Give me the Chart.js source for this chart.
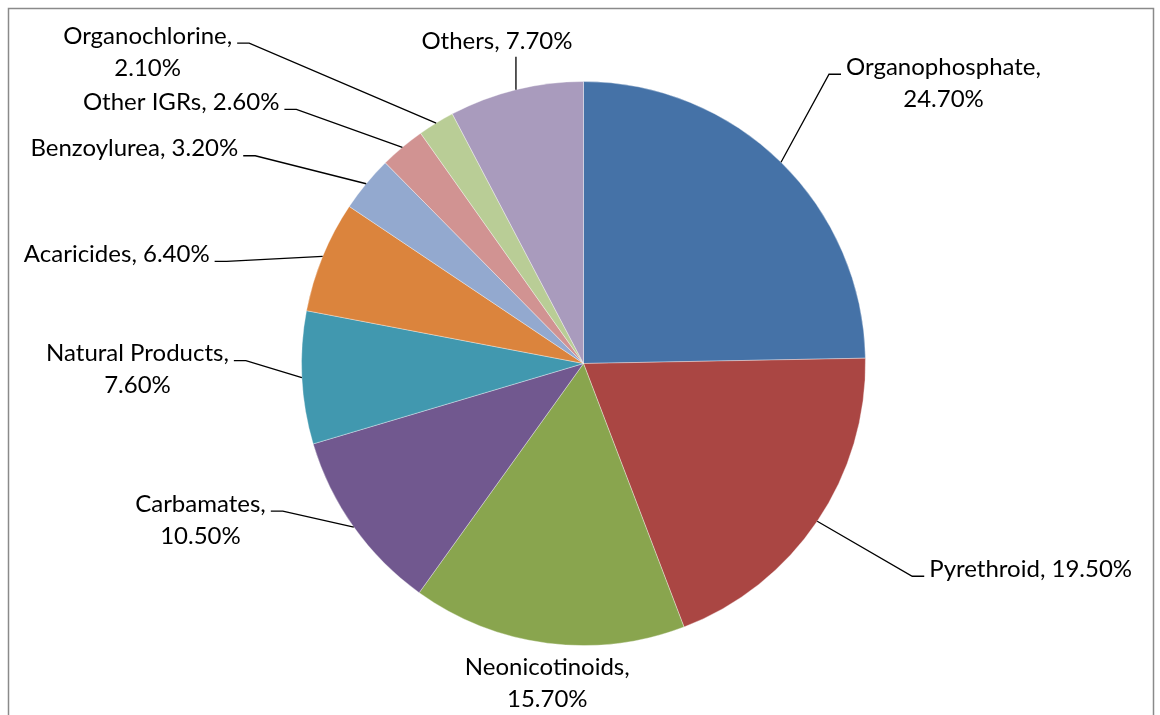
<!DOCTYPE html>
<html>
<head>
<meta charset="utf-8">
<script src="https://cdn.jsdelivr.net/npm/chart.js@4/dist/chart.umd.min.js"></script>
<style>
  html, body { margin: 0; padding: 0; background: #fff; }
  #wrap { width: 1160px; height: 715px; }
</style>
</head>
<body>
<div id="wrap"><canvas id="pie" width="1160" height="715"></canvas></div>
<script>
const categories = ['Organophosphate', 'Pyrethroid', 'Neonicotinoids', 'Carbamates', 'Natural Products',
                    'Acaricides', 'Benzoylurea', 'Other IGRs', 'Organochlorine', 'Others'];
const shares = [24.7, 19.5, 15.7, 10.5, 7.6, 6.4, 3.2, 2.6, 2.1, 7.7];
const sliceColors = ['#4572A7', '#AA4643', '#89A54E', '#71588F', '#4198AF',
                     '#DB843D', '#93A9CF', '#D19392', '#B9CD96', '#A99BBD'];

// label placement, offsets from the slice's outer mid point
// side: 'r' text right of elbow, 'l' text left of elbow, 'up'/'down' no elbow
const labelLayout = [
    { side: 'r', dx: 48, dy: -88, wrap: true },
    { side: 'r', dx: 95, dy: 55, wrap: false },
    { side: 'down', dx: 0, dy: 24, wrap: true },
    { side: 'l', dx: -71, dy: -16, wrap: true },
    { side: 'l', dx: -56, dy: -17, wrap: true },
    { side: 'l', dx: -96, dy: 5, wrap: false },
    { side: 'l', dx: -111, dy: -28, wrap: false },
    { side: 'l', dx: -106, dy: -38, wrap: false },
    { side: 'l', dx: -187, dy: -80, wrap: true },
    { side: 'up', dx: 0, dy: -33, wrap: false }
];

const FONT = '24px Lato, "Open Sans", sans-serif';
const LINE_H = 32;

const frame = {
    id: 'frame',
    beforeDraw(chart) {
        const ctx = chart.ctx;
        ctx.save();
        ctx.fillStyle = '#fff';
        ctx.fillRect(0, 0, chart.width, chart.height);
        ctx.strokeStyle = '#8a8a8a';
        ctx.lineWidth = 1.5;
        ctx.strokeRect(8.5, 8.5, 1145, 740);
        ctx.restore();
    }
};

const sliceLabels = {
    id: 'sliceLabels',
    afterDatasetsDraw(chart) {
        const ctx = chart.ctx;
        const arcs = chart.getDatasetMeta(0).data;
        ctx.save();
        ctx.font = FONT;
        ctx.fillStyle = '#000';
        ctx.strokeStyle = '#000';
        ctx.lineWidth = 1.3;
        ctx.textBaseline = 'middle';
        arcs.forEach((arc, i) => {
            const p = arc.getProps(['x', 'y', 'startAngle', 'endAngle', 'outerRadius'], true);
            const mid = (p.startAngle + p.endAngle) / 2;
            const ex = p.x + Math.cos(mid) * p.outerRadius;
            const ey = p.y + Math.sin(mid) * p.outerRadius;
            const lay = labelLayout[i];
            const pct = shares[i].toFixed(2) + '%';
            const lines = lay.wrap ? [categories[i] + ',', pct] : [categories[i] + ', ' + pct];
            const bx = ex + lay.dx, by = ey + lay.dy;
            const w0 = ctx.measureText(lines[0]).width;
            let cx, ty;
            if (lay.side === 'r' || lay.side === 'l') {
                const dir = lay.side === 'r' ? 1 : -1;
                ctx.beginPath();
                ctx.moveTo(ex, ey);
                ctx.lineTo(bx, by);
                ctx.lineTo(bx + dir * 12, by);
                ctx.stroke();
                const edge = bx + dir * 17;
                cx = lay.side === 'r' ? edge + w0 / 2 : edge - w0 / 2;
                ty = by - 7;
            } else if (lay.side === 'up') {
                ctx.beginPath();
                ctx.moveTo(ex, ey);
                ctx.lineTo(bx, by);
                ctx.stroke();
                cx = bx - 19;
                ty = by - 15;
            } else {
                cx = bx;
                ty = by;
            }
            ctx.textAlign = 'center';
            lines.forEach((ln, k) => ctx.fillText(ln, cx, ty + k * LINE_H));
        });
        ctx.restore();
    }
};

new Chart(document.getElementById('pie'), {
    type: 'pie',
    data: {
        labels: categories,
        datasets: [{
            data: shares,
            backgroundColor: sliceColors,
            borderColor: 'rgba(255,255,255,0.35)',
            borderWidth: 1
        }]
    },
    options: {
        responsive: false,
        animation: false,
        layout: { padding: { left: 301, right: 294, top: 81, bottom: 69 } },
        plugins: {
            legend: { display: false },
            tooltip: { enabled: false }
        }
    },
    plugins: [frame, sliceLabels]
});
</script>
</body>
</html>
